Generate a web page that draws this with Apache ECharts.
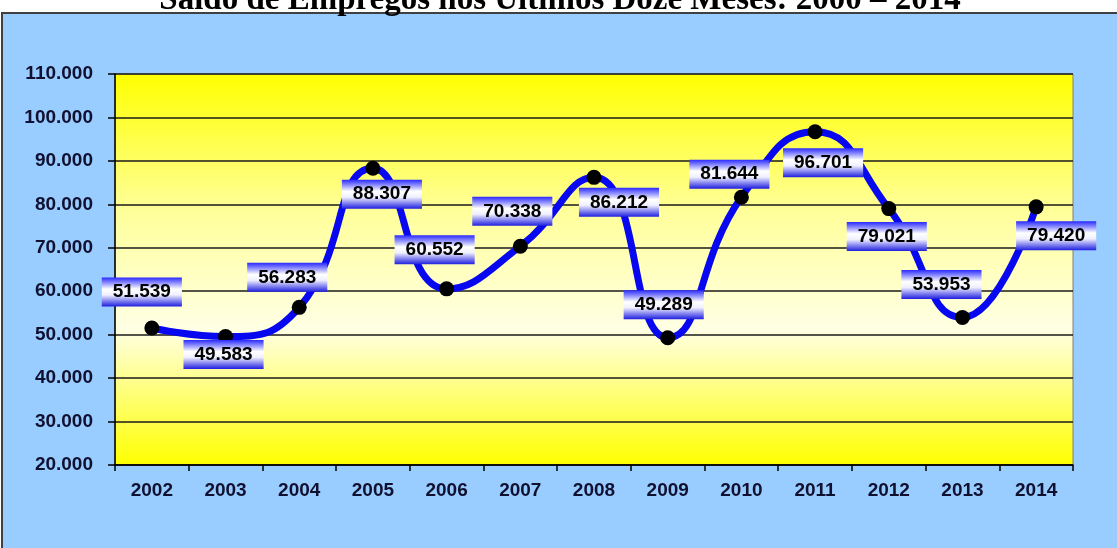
<!DOCTYPE html>
<html>
<head>
<meta charset="utf-8">
<script src="https://cdn.jsdelivr.net/npm/echarts@6/dist/echarts.min.js"></script>
<style>
html,body{margin:0;padding:0;background:#fff;}
#chart{width:1117px;height:548px;}
</style>
</head>
<body>
<div id="chart"></div>
<script>
var titleText = 'Saldo de Empregos nos Últimos Doze Meses: 2000 – 2014';
var categories = ['2002','2003','2004','2005','2006','2007','2008','2009','2010','2011','2012','2013','2014'];
var saldo = [51539, 49583, 56283, 88307, 60552, 70338, 86212, 49289, 81644, 96701, 79021, 53953, 79420];
var yMin = 20000, yMax = 110000, yStep = 10000;

// label placement relative to each point (layout only)
var labelOffsets = [[-10,-36],[-2,18],[-12,-30],[9,26],[-12,-39],[-8,-35],[25,25],[-4,-33],[-12,-23],[8,31],[-2,28],[-21,-33],[20,29]];

function fmt(v){ return String(v).replace(/\B(?=(\d{3})+(?!\d))/g, '.'); }

var chart = echarts.init(document.getElementById('chart'));
var labelBg = {
  type:'linear', x:0, y:0, x2:0, y2:1,
  colorStops:[
    {offset:0, color:'#2a2aff'},
    {offset:0.4, color:'#ffffff'},
    {offset:0.6, color:'#f0f0ff'},
    {offset:1, color:'#1e1ee0'}
  ]
};

chart.setOption({
  backgroundColor:'#ffffff',
  animation:false,
  graphic:[
    { type:'rect', z:-10, silent:true,
      shape:{x:2, y:13, width:1125, height:545},
      style:{fill:'#99ccff', stroke:'#404040', lineWidth:2} },
    { type:'text', z:10, silent:true,
      style:{ text:titleText, x:560, y:17, align:'center', verticalAlign:'bottom',
        font:'bold 33px "Liberation Serif", "Times New Roman", serif', fill:'#000' } }
  ],
  grid:{
    left:115, right:44, top:74, bottom:83,
    show:true,
    backgroundColor:{
      type:'linear', x:0, y:0, x2:0, y2:1,
      colorStops:[
        {offset:0, color:'#ffff00'},
        {offset:0.35, color:'#ffff9a'},
        {offset:0.65, color:'#ffffe4'},
        {offset:1, color:'#ffff00'}
      ]
    },
    borderColor:'#808080', borderWidth:1
  },
  xAxis:{
    type:'category',
    data:categories,
    boundaryGap:true,
    axisLine:{show:true, lineStyle:{color:'#000', width:1.5}},
    axisTick:{show:true, length:6, lineStyle:{color:'#000', width:1.5}},
    axisLabel:{margin:16, fontSize:19, fontWeight:'bold', fontFamily:'Liberation Sans, Arial, sans-serif', color:'#101030'},
    splitLine:{show:false}
  },
  yAxis:{
    type:'value',
    min:yMin, max:yMax, interval:yStep,
    axisLine:{show:true, lineStyle:{color:'#000', width:1.5}},
    axisTick:{show:true, length:7, lineStyle:{color:'#000', width:1.5}},
    axisLabel:{margin:22, fontSize:19, fontWeight:'bold', fontFamily:'Liberation Sans, Arial, sans-serif', color:'#101030',
      formatter:function(v){ return fmt(v); }},
    splitLine:{show:true, lineStyle:{color:'#1a1a1a', width:1.5}}
  },
  series:[{
    type:'line',
    data:saldo,
    smooth:0.5,
    symbol:'circle',
    symbolSize:15,
    itemStyle:{color:'#000000'},
    lineStyle:{color:'#0808f0', width:7},
    z:3,
    label:{
      show:true,
      position:'inside',
      formatter:function(p){ return fmt(p.value); },
      fontSize:19, fontWeight:'bold', fontFamily:'Liberation Sans, Arial, sans-serif',
      color:'#000', lineHeight:19,
      padding:[5,11],
      backgroundColor:labelBg
    },
    labelLayout:function(params){
      var o = labelOffsets[params.dataIndex] || [0,0];
      return { dx:o[0], dy:o[1], hideOverlap:false };
    }
  }]
});
</script>
</body>
</html>
